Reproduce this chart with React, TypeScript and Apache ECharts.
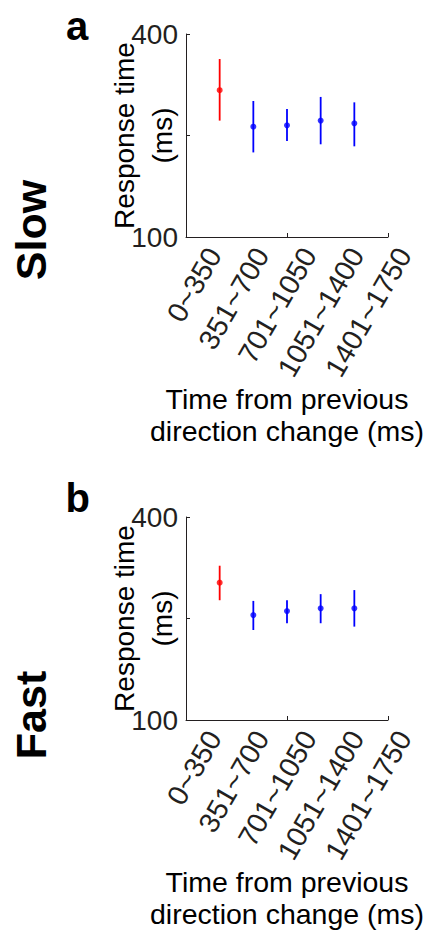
import React, { useEffect, useRef } from "react";
import * as echarts from "echarts";

const categories = ["0~350", "351~700", "701~1050", "1051~1400", "1401~1750"];
const positions = [1, 2, 3, 4, 5];
const pointColors = ["#ff0000", "#0000ff", "#0000ff", "#0000ff", "#0000ff"];

const slowMean = [317, 263, 265, 272, 268];
const slowLow = [272, 225, 242, 237, 234];
const slowHigh = [363, 301, 289, 307, 299];

const fastMean = [303, 255, 261, 265, 265];
const fastLow = [277, 233, 243, 243, 238];
const fastHigh = [328, 276, 277, 286, 292];

const yTicks = [100, 250, 400];
const yLabelsShown = [100, 400];

const FONT = "'Liberation Sans', Arial, Helvetica, sans-serif";
const AXIS_COLOR = "#231f20";

export default function App() {
  const ref = useRef<HTMLDivElement>(null);

  useEffect(() => {
    if (!ref.current) return;
    const chart = echarts.init(ref.current, undefined, { renderer: "svg" });

    const panels = [
      { top: 34, mean: slowMean, low: slowLow, high: slowHigh },
      { top: 517, mean: fastMean, low: fastLow, high: fastHigh },
    ];

    const grids: any[] = [];
    const xAxes: any[] = [];
    const yAxes: any[] = [];
    const series: any[] = [];

    panels.forEach((p, pi) => {
      const gMain = pi * 2;
      const gLab = pi * 2 + 1;
      grids.push({ left: 186, top: p.top, width: 202, height: 203 });
      grids.push({ left: 190.25, top: p.top, width: 237.5, height: 203 });

      xAxes.push({
        gridIndex: gMain,
        type: "value",
        min: 0,
        max: 6,
        interval: 3,
        axisLine: { show: true, lineStyle: { color: AXIS_COLOR, width: 1 } },
        axisTick: { show: true, inside: true, length: 4, lineStyle: { color: AXIS_COLOR } },
        axisLabel: { show: false },
        splitLine: { show: false },
        name: "Time from previous\ndirection change (ms)",
        nameLocation: "middle",
        nameGap: 146,
        nameMoveOverlap: false,
        nameTextStyle: { fontFamily: FONT, fontSize: 28.5, color: "#000", lineHeight: 32 },
      });
      xAxes.push({
        gridIndex: gLab,
        type: "category",
        data: categories,
        boundaryGap: true,
        axisLine: { show: false },
        axisTick: { show: false },
        splitLine: { show: false },
        axisLabel: {
          interval: 0,
          rotate: 60,
          margin: 13,
          fontFamily: FONT,
          fontSize: 28.5,
          color: AXIS_COLOR,
        },
      });

      yAxes.push({
        gridIndex: gMain,
        type: "value",
        min: yTicks[0],
        max: yTicks[yTicks.length - 1],
        interval: yTicks[1] - yTicks[0],
        axisLine: { show: true, lineStyle: { color: AXIS_COLOR, width: 1 } },
        axisTick: { show: true, inside: true, length: 4, lineStyle: { color: AXIS_COLOR } },
        splitLine: { show: false },
        axisLabel: {
          margin: 8,
          fontFamily: FONT,
          fontSize: 28,
          color: AXIS_COLOR,
          padding: [0, 0, 16, 0],
          formatter: (v: number) => (yLabelsShown.indexOf(v) >= 0 ? String(v) : ""),
        },
        name: "Response time\n(ms)",
        nameLocation: "middle",
        nameRotate: 90,
        nameGap: 5,
        nameMoveOverlap: false,
        nameTextStyle: { fontFamily: FONT, fontSize: 28, color: "#000", lineHeight: 38 },
      });
      yAxes.push({ gridIndex: gLab, type: "value", show: false, min: 0, max: 1 });

      series.push({
        type: "custom",
        xAxisIndex: gMain,
        yAxisIndex: gMain,
        data: positions.map((x, i) => [x, p.low[i], p.high[i], i]),
        renderItem: (_params: any, api: any) => {
          const x = api.value(0);
          const a = api.coord([x, api.value(1)]);
          const b = api.coord([x, api.value(2)]);
          return {
            type: "line",
            shape: { x1: a[0], y1: a[1], x2: b[0], y2: b[1] },
            style: { stroke: pointColors[api.value(3)], lineWidth: 1.8 },
          };
        },
        z: 2,
      });
      series.push({
        type: "scatter",
        xAxisIndex: gMain,
        yAxisIndex: gMain,
        symbol: "circle",
        symbolSize: 6,
        data: positions.map((x, i) => ({
          value: [x, p.mean[i]],
          itemStyle: { color: pointColors[i] },
        })),
        z: 3,
      });
    });

    chart.setOption({
      animation: false,
      backgroundColor: "#ffffff",
      grid: grids,
      xAxis: xAxes,
      yAxis: yAxes,
      series,
      graphic: [
        {
          type: "text",
          x: 66,
          y: 26,
          style: { text: "a", fontFamily: FONT, fontSize: 40, fontWeight: "bold", fill: "#000", textAlign: "left", textVerticalAlign: "middle" },
        },
        {
          type: "text",
          x: 65.5,
          y: 498,
          style: { text: "b", fontFamily: FONT, fontSize: 40, fontWeight: "bold", fill: "#000", textAlign: "left", textVerticalAlign: "middle" },
        },
        {
          type: "text",
          x: 31,
          y: 230,
          rotation: Math.PI / 2,
          style: { text: "Slow", fontFamily: FONT, fontSize: 43, fontWeight: "bold", fill: "#000", textAlign: "center", textVerticalAlign: "middle" },
        },
        {
          type: "text",
          x: 31,
          y: 715,
          rotation: Math.PI / 2,
          style: { text: "Fast", fontFamily: FONT, fontSize: 43, fontWeight: "bold", fill: "#000", textAlign: "center", textVerticalAlign: "middle" },
        },
      ],
    });

    return () => chart.dispose();
  }, []);

  return (
    <div
      ref={ref}
      style={{ position: "absolute", left: 0, top: 0, width: 428, height: 936, background: "#fff" }}
    />
  );
}
